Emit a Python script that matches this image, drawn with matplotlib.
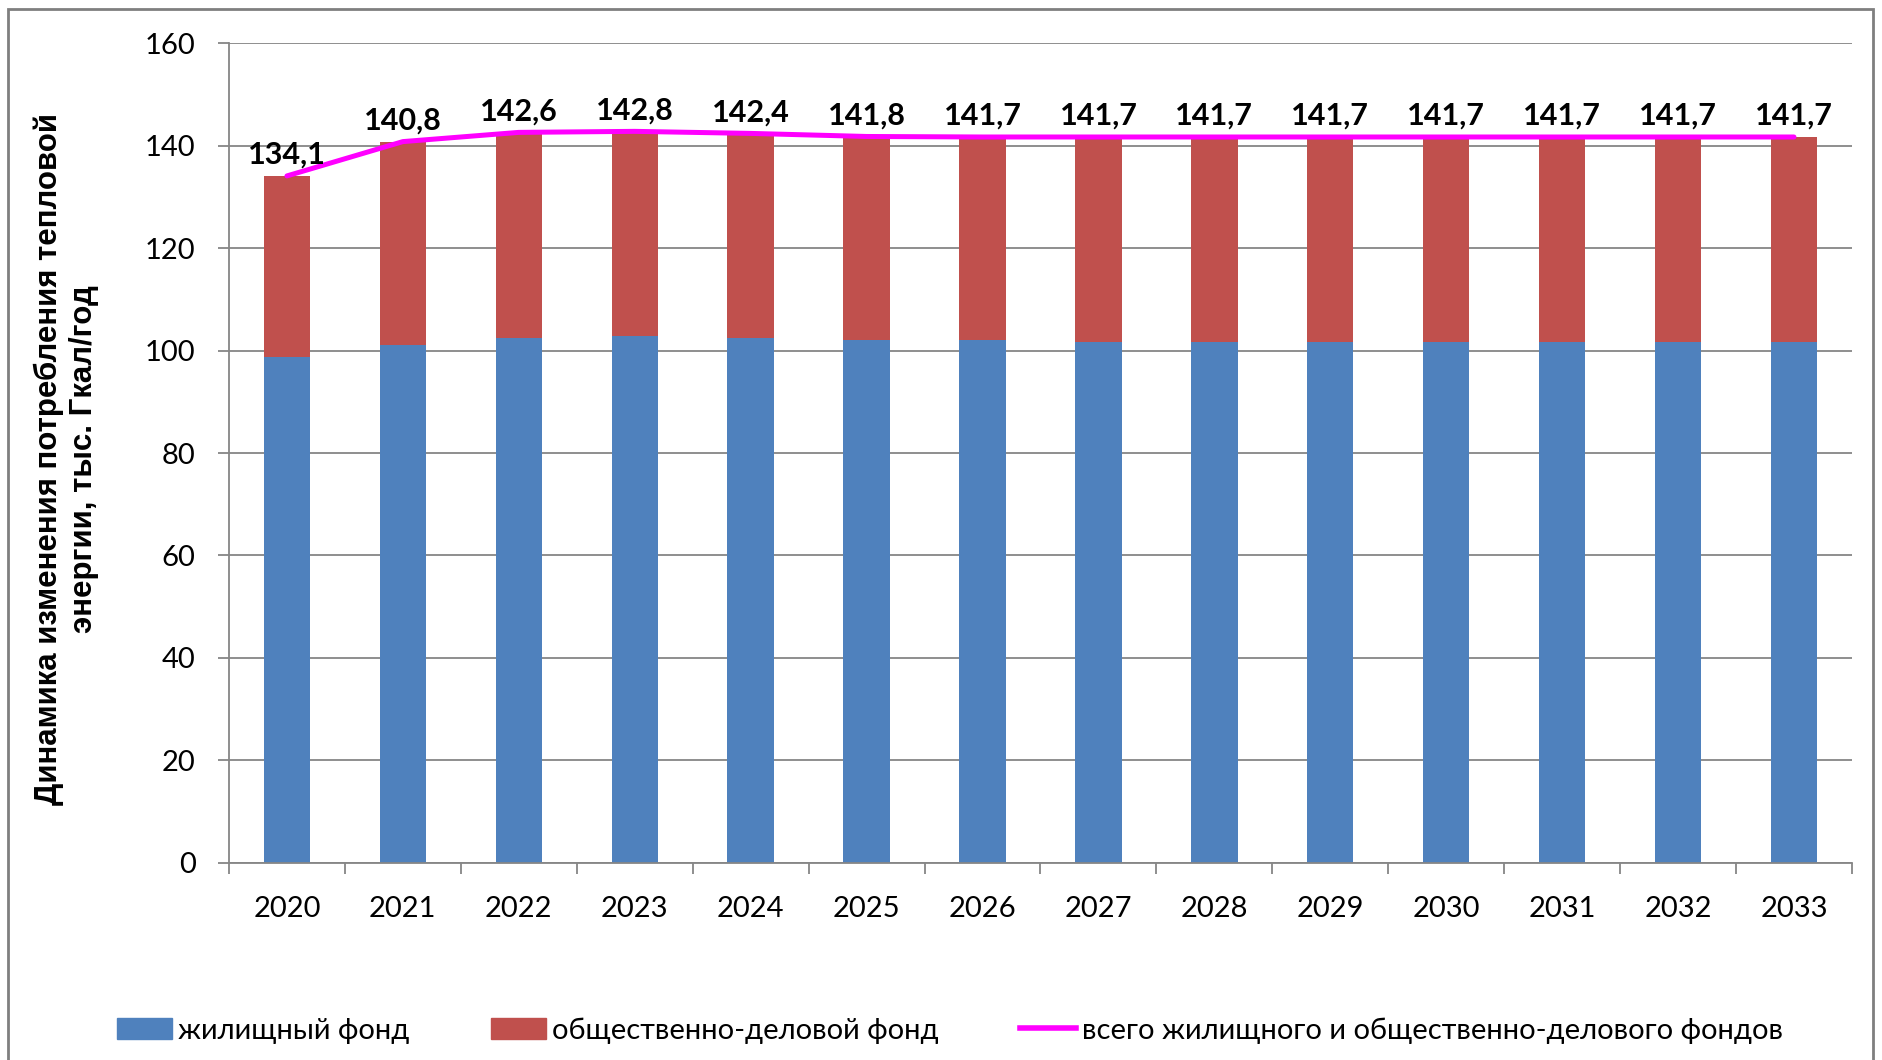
import matplotlib
matplotlib.use("Agg")
import matplotlib.pyplot as plt
from matplotlib.patches import Rectangle, Patch
from matplotlib.lines import Line2D
import numpy as np

years = ["2020", "2021", "2022", "2023", "2024", "2025", "2026",
         "2027", "2028", "2029", "2030", "2031", "2032", "2033"]
total = [134.1, 140.8, 142.6, 142.8, 142.4, 141.8, 141.7,
         141.7, 141.7, 141.7, 141.7, 141.7, 141.7, 141.7]
housing = [98.7, 101.0, 102.5, 102.8, 102.5, 102.0, 102.0,
           101.7, 101.7, 101.7, 101.7, 101.7, 101.7, 101.7]
public = [round(t - h, 1) for t, h in zip(total, housing)]

labels = ["жилищный фонд", "общественно-деловой фонд",
          "всего жилищного и общественно-делового фондов"]
ylabel = "Динамика изменения потребления тепловой\nэнергии, тыс. Гкал/год"

BLUE = "#4F81BD"
RED = "#C0504D"
MAG = "#FF00FF"
GRID = "#868686"

plt.rcParams['font.family'] = ['Lato', 'DejaVu Sans']

fig = plt.figure(figsize=(18.83, 10.60), dpi=100)
ax = fig.add_axes([0.1216, 0.186, 0.9835 - 0.1216, 0.9592 - 0.186])

x = np.arange(len(years))
ax.bar(x, housing, width=0.4, color=BLUE, zorder=2)
ax.bar(x, public, bottom=housing, width=0.4, color=RED, zorder=2)
ax.plot(x, total, color=MAG, lw=3.6, zorder=3, solid_capstyle='round')

for xi, t in zip(x, total):
    ax.annotate(f"{t:.1f}".replace(".", ","), (xi, t), xytext=(0, 5),
                textcoords="offset points", ha="center", va="bottom",
                fontsize=22, fontweight="bold", zorder=4)

ax.set_xlim(-0.5, len(years) - 0.5)
ax.set_ylim(0, 160)
ax.set_yticks(range(0, 161, 20))
ax.yaxis.grid(True, color=GRID, lw=1.3, zorder=0)
ax.set_axisbelow(True)

ax.set_xticks(x)
ax.set_xticklabels(years)
ax.set_xticks(np.arange(-0.5, len(years)), minor=True)
ax.tick_params(axis="x", which="major", length=0, pad=24, labelsize=21)
ax.tick_params(axis="x", which="minor", length=8, direction="out", color=GRID, width=1.3)
ax.tick_params(axis="y", length=8, direction="out", color=GRID, width=1.3, pad=16, labelsize=21)

for s in ["top", "right"]:
    ax.spines[s].set_visible(False)
for s in ["left", "bottom"]:
    ax.spines[s].set_color(GRID)
    ax.spines[s].set_linewidth(1.3)

fig.text(0.0353, 0.567, ylabel, rotation=90, ha="center", va="center",
         fontsize=22.5, fontweight="bold", linespacing=1.2, multialignment="center",
         family=["Liberation Sans", "DejaVu Sans"])

handles = [Patch(color=BLUE), Patch(color=RED), Line2D([], [], color=MAG, lw=4)]
fig.legend(handles, labels, loc="center left", bbox_to_anchor=(0.048, 0.028),
           ncol=3, frameon=False, fontsize=21, handlelength=1.9, handleheight=0.7,
           handletextpad=0.2, columnspacing=2.8)

fig.patches.append(Rectangle((8 / 1883, -0.05), (1873 - 8) / 1883, 1.05 - 9 / 1060,
                             transform=fig.transFigure, fill=False,
                             edgecolor="#7F7F7F", lw=2))

fig.savefig("out.png", dpi=100)
